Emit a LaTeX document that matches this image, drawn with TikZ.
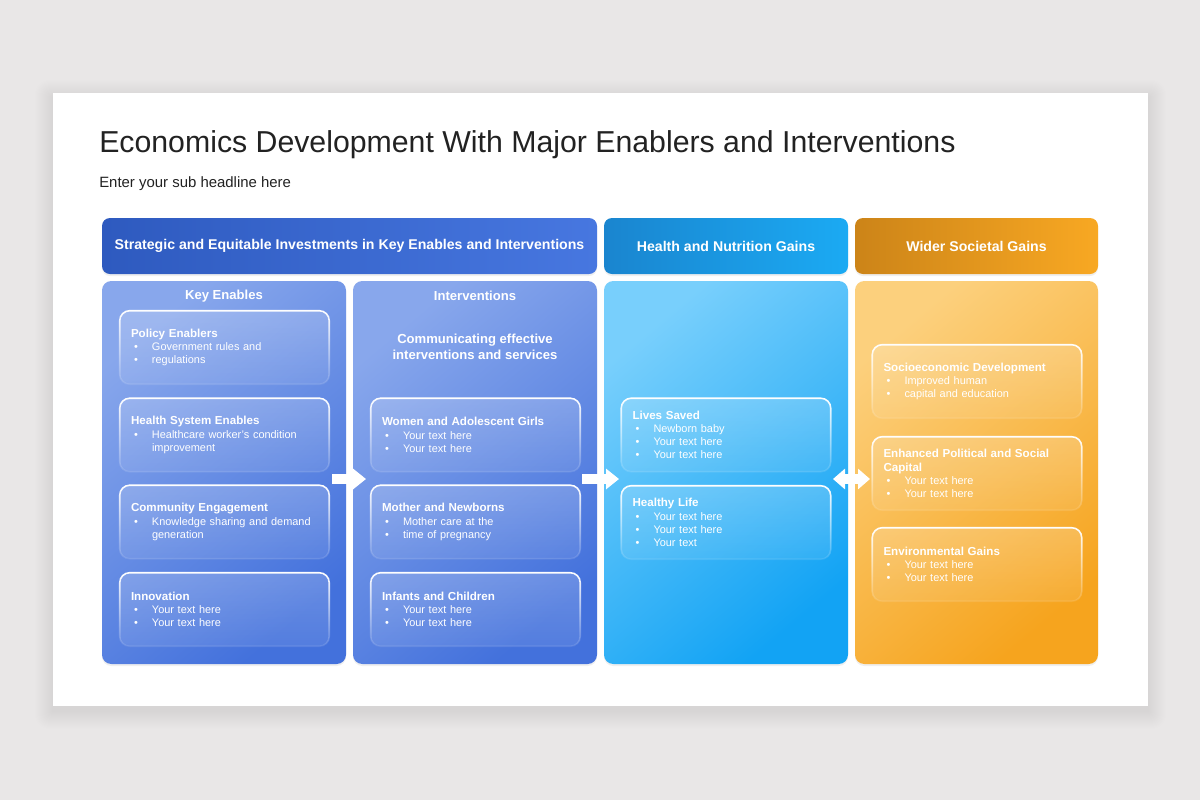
\documentclass[tikz,border=0pt]{standalone}
\usepackage{fontspec}
\setmainfont{Liberation Sans}
\usetikzlibrary{arrows.meta,shadows,fadings}
\definecolor{bgc}{HTML}{E9E7E7}
\definecolor{titlec}{HTML}{222222}
\definecolor{hAl}{HTML}{2E5ABF}
\definecolor{hAr}{HTML}{4777E0}
\definecolor{hBl}{HTML}{1A85CF}
\definecolor{hBr}{HTML}{1BAAF3}
\definecolor{hCl}{HTML}{CC8418}
\definecolor{hCr}{HTML}{F8A823}
\definecolor{cAt}{HTML}{88A7EC}
\definecolor{cAb}{HTML}{4371DC}
\definecolor{cBt}{HTML}{78CFFC}
\definecolor{cBb}{HTML}{12A3F4}
\definecolor{cCt}{HTML}{FCD07D}
\definecolor{cCb}{HTML}{F6A41E}
\tikzfading[name=glassd, top color=transparent!0, bottom color=transparent!92]
\tikzfading[name=glassf, top color=transparent!0, bottom color=transparent!55]
\newcommand\bt[1]{{\bfseries\fontsize{8.7}{9.9}\selectfont #1}}
\newcommand\bul[1]{\makebox[15.75pt][l]{\hspace{2.25pt}\textbullet}#1}
\newcommand\cnt[1]{\hspace*{15.75pt}#1}
\begin{document}
\begin{tikzpicture}[x=0.75pt,y=-0.75pt,
  hdr/.style={rounded corners=6pt, minimum height=42pt, text=white,
    font=\bfseries\fontsize{10.6}{12}\selectfont, inner sep=0pt,
    drop shadow={opacity=0.12, shadow xshift=0pt, shadow yshift=-1.5pt}},
  colbox/.style={rounded corners=7pt, minimum height=287.25pt, minimum width=183pt,
    inner sep=0pt,
    drop shadow={opacity=0.12, shadow xshift=0pt, shadow yshift=-1.5pt}},
  coltitle/.style={text=white, font=\bfseries\fontsize{9.8}{12}\selectfont, inner sep=0pt},
  ibox/.style={text=white, minimum width=156.75pt,
    minimum height=54.75pt, inner xsep=8.25pt, inner ysep=0pt, text width=140.25pt,
    align=left, font=\fontsize{8.2}{9.9}\selectfont},
  glassfill/.style={fill=white, fill opacity=0.2, path fading=glassf, rounded corners=7.5pt},
  glassline/.style={draw=white, line width=1.2pt, path fading=glassd, rounded corners=7.5pt},
  arr/.style={white, line width=7.5pt},
]
\useasboundingbox (0,0) rectangle (1200,800);
\fill[bgc] (0,0) rectangle (1200,800);
% card with soft shadow
\foreach \i in {1,...,18}
  \fill[black,opacity=0.0035,rounded corners=\i*0.6pt] (53-\i,93-\i+5) rectangle (1148+\i,706+\i+5);
\fill[white] (53,93) rectangle (1148,706);

\node[anchor=base west, inner sep=0pt, text=titlec, font=\fontsize{22.7}{27}\selectfont] (title) at (99,152)
  {Economics Development With Major Enablers and Interventions};
\node[anchor=base west, inner sep=0pt, text=titlec, font=\fontsize{11.2}{13}\selectfont] (sub) at (99,187)
  {Enter your sub headline here};

% headers
\node[hdr, minimum width=371.25pt, left color=hAl, right color=hAr] (h1) at (349.5,246)
  {Strategic and Equitable Investments in Key Enables and Interventions};
\node[hdr, minimum width=183pt, left color=hBl, right color=hBr] (h2) at (726,246)
  {Health and Nutrition Gains};
\node[hdr, minimum width=182.25pt, left color=hCl, right color=hCr] (h3) at (976.5,246)
  {Wider Societal Gains};

% columns
\node[colbox, top color=cAt, bottom color=cAb, shading angle=40] (c1) at (224,472.5) {};
\node[colbox, top color=cAt, bottom color=cAb, shading angle=40] (c2) at (475,472.5) {};
\node[colbox, top color=cBt, bottom color=cBb, shading angle=40] (c3) at (726,472.5) {};
\node[colbox, minimum width=182.25pt, top color=cCt, bottom color=cCb, shading angle=40] (c4) at (976.5,472.5) {};

\node[coltitle] (t1) at (224,296) {Key Enables};
\node[coltitle] (t2) at (475,296) {Interventions};
\node[coltitle, align=center, font=\bfseries\fontsize{9.8}{12.2}\selectfont] (t2b) at (475,347)
  {Communicating effective\\interventions and services};

% column 1 boxes
\node[ibox] (k1) at (224.5,347.5) {\bt{Policy Enablers}\\\bul{Government rules and}\\\bul{regulations}};
\node[ibox] (k2) at (224.5,435) {\bt{Health System Enables}\\\bul{Healthcare worker's condition}\\\cnt{improvement}};
\node[ibox] (k3) at (224.5,522) {\bt{Community Engagement}\\\bul{Knowledge sharing and demand}\\\cnt{generation}};
\node[ibox] (k4) at (224.5,609.5) {\bt{Innovation}\\\bul{Your text here}\\\bul{Your text here}};

% column 2 boxes
\node[ibox] (i1) at (475.5,435) {\bt{Women and Adolescent Girls}\\\bul{Your text here}\\\bul{Your text here}};
\node[ibox] (i2) at (475.5,522) {\bt{Mother and Newborns}\\\bul{Mother care at the}\\\bul{time of pregnancy}};
\node[ibox] (i3) at (475.5,609.5) {\bt{Infants and Children}\\\bul{Your text here}\\\bul{Your text here}};

% column 3 boxes
\node[ibox] (g1) at (726,435) {\bt{Lives Saved}\\\bul{Newborn baby}\\\bul{Your text here}\\\bul{Your text here}};
\node[ibox] (g2) at (726,522.5) {\bt{Healthy Life}\\\bul{Your text here}\\\bul{Your text here}\\\bul{Your text}};

% column 4 boxes
\node[ibox] (s1) at (977,381.5) {\bt{Socioeconomic Development}\\\bul{Improved human}\\\bul{capital and education}};
\node[ibox] (s2) at (977,473.5) {\bt{Enhanced Political and Social}\\\bt{Capital}\\\bul{Your text here}\\\bul{Your text here}};
\node[ibox] (s3) at (977,564.5) {\bt{Environmental Gains}\\\bul{Your text here}\\\bul{Your text here}};

% glass frames of the boxes
\foreach \n in {k1,k2,k3,k4,i1,i2,i3,g1,g2,s1,s2,s3}{
  \path[glassfill] (\n.south west) rectangle (\n.north east);
  \path[glassline] (\n.south west) rectangle (\n.north east);
}

% arrows
\coordinate (a1s) at (332,479);
\coordinate (a1e) at (366,479);
\coordinate (a2s) at (582,479);
\coordinate (a2e) at (619,479);
\coordinate (a3s) at (833,479);
\coordinate (a3e) at (870,479);
\draw[arr, -{Triangle[width=15pt,length=9.75pt]}] (a1s) -- (a1e);
\draw[arr, -{Triangle[width=15pt,length=9.75pt]}] (a2s) -- (a2e);
\draw[arr, {Triangle[width=15pt,length=9pt]}-{Triangle[width=15pt,length=9pt]}] (a3s) -- (a3e);
\end{tikzpicture}
\end{document}
